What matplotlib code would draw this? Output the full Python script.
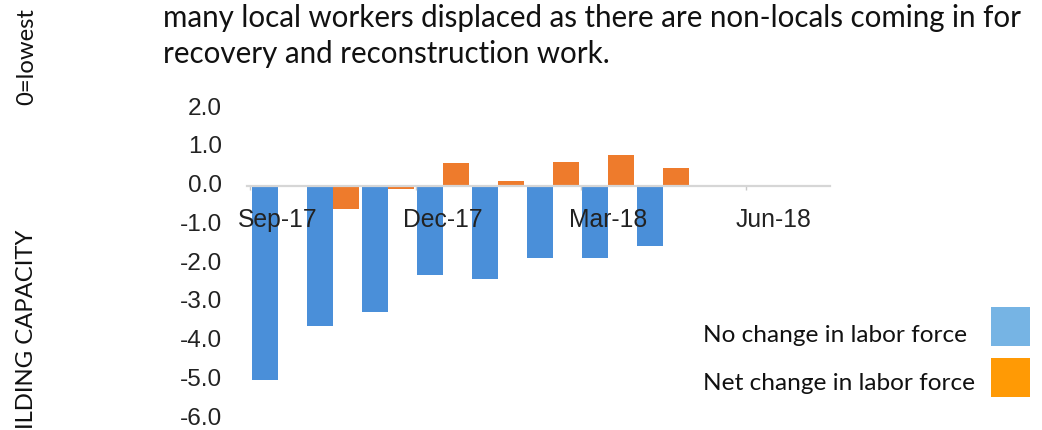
import matplotlib
matplotlib.use('Agg')
import matplotlib.pyplot as plt
import numpy as np
from matplotlib.patches import Rectangle
from matplotlib.ticker import FormatStrFormatter
from matplotlib.transforms import ScaledTranslation

# ---------------- data ----------------
months = ['Sep-17', 'Oct-17', 'Nov-17', 'Dec-17', 'Jan-18', 'Feb-18', 'Mar-18', 'Apr-18']
no_change = [-5.0, -3.6, -3.25, -2.3, -2.4, -1.85, -1.85, -1.55]
net_change = [0.0, -0.6, -0.08, 0.6, 0.13, 0.62, 0.8, 0.48]
axis_months = ['Sep-17', 'Oct-17', 'Nov-17', 'Dec-17', 'Jan-18', 'Feb-18',
               'Mar-18', 'Apr-18', 'May-18', 'Jun-18', 'Jul-18']
tick_labels = ['Sep-17', 'Dec-17', 'Mar-18', 'Jun-18']
y_ticks = [2.0, 1.0, 0.0, -1.0, -2.0, -3.0, -4.0, -5.0, -6.0]
header_lines = ['many local workers displaced as there are non-locals coming in for',
                'recovery and reconstruction work.']
legend_labels = ['No change in labor force', 'Net change in labor force']
side_labels = ['0=lowest', 'ILDING CAPACITY']

BLUE = '#4A8FD9'
ORANGE = '#EE7B2C'
LEG_BLUE = '#76B4E4'
LEG_ORANGE = '#FF9A05'

plt.rcParams['font.family'] = ['Liberation Sans', 'DejaVu Sans']
plt.rcParams['axes.unicode_minus'] = False

W, H = 1042, 430
fig = plt.figure(figsize=(W / 100, H / 100), dpi=100)
fig.patch.set_facecolor('white')
renderer = fig.canvas.get_renderer()


def px_box(l, t, r, b):
    return [l / W, 1 - b / H, (r - l) / W, (b - t) / H]


def fit_size(s, target_w, family, base=20):
    t = fig.text(0, 0, s, fontsize=base, family=family)
    w = t.get_window_extent(renderer).width
    t.remove()
    return base * target_w / w


# ---------------- chart ----------------
ax = fig.add_axes(px_box(247, 108.6, 830, 418.6))
ax.set_facecolor('none')
x = np.arange(len(months))
ax.bar(x - 0.236, no_change, width=0.47, color=BLUE, zorder=1)
ax.bar(x + 0.236, net_change, width=0.47, color=ORANGE, zorder=1)
ax.set_xlim(-0.5636, 10.036)
ax.set_ylim(-6, 2)

for s in ['top', 'right', 'left']:
    ax.spines[s].set_visible(False)
ax.spines['bottom'].set_position(('data', 0))
ax.spines['bottom'].set_color('#D6D6D6')
ax.spines['bottom'].set_linewidth(1.6)

tick_pos = [axis_months.index(m) for m in tick_labels]
ax.set_xticks(tick_pos)
ax.set_xticklabels(tick_labels)
ax.set_xticks([p - 0.5 for p in tick_pos], minor=True)
ax.tick_params(axis='x', which='major', length=0, pad=15.6, labelsize=17.8,
               labelcolor='#222222')
ax.tick_params(axis='x', which='minor', length=3, width=1, color='#C8C8C8',
               direction='out')

ax.set_yticks(y_ticks)
ax.yaxis.set_major_formatter(FormatStrFormatter('%.1f'))
ax.tick_params(axis='y', length=0, pad=18, labelsize=17.6, labelcolor='#222222')
shift_up = ScaledTranslation(0, 2.5 / 100, fig.dpi_scale_trans)
for lab in ax.get_yticklabels():
    lab.set_transform(lab.get_transform() + shift_up)

# ---------------- surrounding text ----------------
TXT_FONT = ['Lato', 'DejaVu Sans']
hs = fit_size(header_lines[0], 860, TXT_FONT)
fig.text(163 / W, 1 - 27.3 / H, header_lines[0], fontsize=hs, family=TXT_FONT,
         color='#111111', ha='left', va='baseline')
fig.text(163 / W, 1 - 63.3 / H, header_lines[1], fontsize=hs, family=TXT_FONT,
         color='#111111', ha='left', va='baseline')

ls = fit_size(legend_labels[0], 264, TXT_FONT)
fig.text(703 / W, 1 - 341.5 / H, legend_labels[0], fontsize=ls, family=TXT_FONT,
         color='#111111', ha='left', va='baseline')
fig.text(703 / W, 1 - 390 / H, legend_labels[1], fontsize=ls, family=TXT_FONT,
         color='#111111', ha='left', va='baseline')
fig.add_artist(Rectangle((991 / W, 1 - 346 / H), 39 / W, 39 / H,
                         transform=fig.transFigure, facecolor=LEG_BLUE, edgecolor='none'))
fig.add_artist(Rectangle((991 / W, 1 - 397 / H), 39 / W, 39 / H,
                         transform=fig.transFigure, facecolor=LEG_ORANGE, edgecolor='none'))

ss = fit_size(side_labels[0], 97, TXT_FONT)
fig.text(33 / W, 1 - 105 / H, side_labels[0], fontsize=ss, family=TXT_FONT,
         color='#111111', rotation=90, rotation_mode='anchor',
         ha='left', va='baseline')
fig.text(33 / W, 1 - 429 / H, side_labels[1], fontsize=ss, family=TXT_FONT,
         color='#111111', rotation=90, rotation_mode='anchor',
         ha='left', va='baseline')

fig.savefig('out.png', dpi=100, facecolor='white')
